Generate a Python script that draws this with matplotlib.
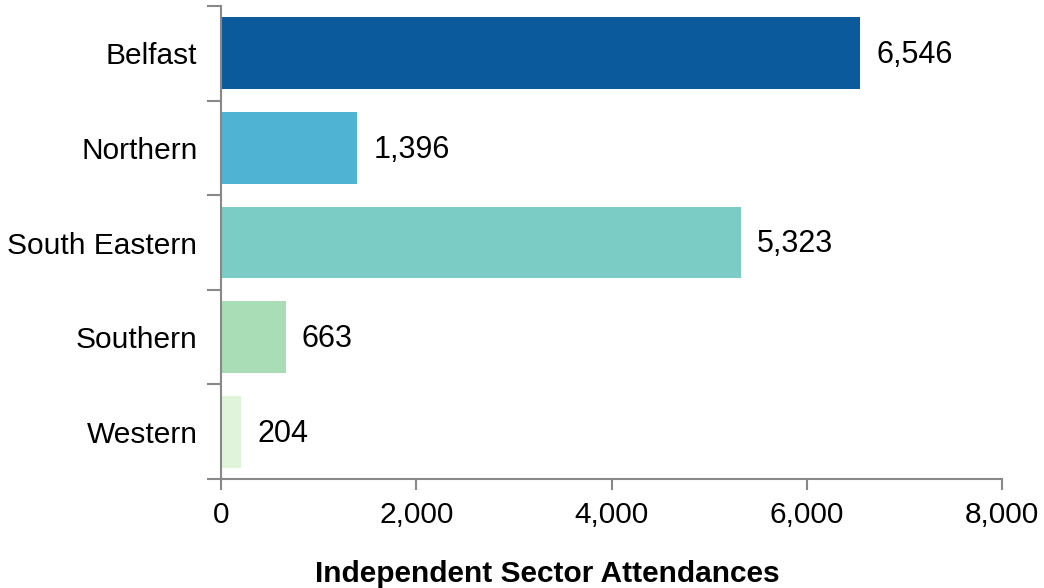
import matplotlib
matplotlib.use("Agg")
import matplotlib.pyplot as plt
from matplotlib.ticker import FuncFormatter, FixedLocator

categories = ["Belfast", "Northern", "South Eastern", "Southern", "Western"]
values = [6546, 1396, 5323, 663, 204]
colors = ["#0A5A9C", "#4FB3D3", "#7BCCC4", "#A8DDB5", "#E0F3DB"]
xticks = [0, 2000, 4000, 6000, 8000]

plt.rcParams['font.family'] = ['Liberation Sans', 'DejaVu Sans']

fig = plt.figure(figsize=(10.44, 5.88), dpi=100)
ax = fig.add_axes([221/1044, 1-479/588, (1002-221)/1044, (479-6)/588])

n = len(categories)
ypos = list(range(n))
ax.barh(ypos, values, height=0.76, color=colors)
ax.set_ylim(n - 0.5, -0.5)
ax.set_xlim(0, 8000)

for y, v in zip(ypos, values):
    ax.text(v + 165, y + 0.02, f"{v:,}", va="center", ha="left", fontsize=22, color="black")

ax.set_yticks(ypos)
ax.set_yticklabels(categories, fontsize=21.5)
ax.tick_params(axis='y', which='major', length=0, pad=17)
ax.yaxis.set_minor_locator(FixedLocator([i - 0.5 for i in range(n + 1)]))
ax.tick_params(axis='y', which='minor', length=10, color='#888888', width=1.5)

ax.set_xticks(xticks)
ax.xaxis.set_major_formatter(FuncFormatter(lambda x, p: f"{int(x):,}"))
ax.tick_params(axis='x', length=8, color='#888888', width=1.5, labelsize=21.5, pad=8)

for s in ['top', 'right']:
    ax.spines[s].set_visible(False)
for s in ['left', 'bottom']:
    ax.spines[s].set_color('#888888')
    ax.spines[s].set_linewidth(1.5)

ax.set_xlabel("Independent Sector Attendances", fontsize=21.5, fontweight='bold', labelpad=22)
ax.xaxis.label.set_x((547 - 221) / 781)

fig.savefig("out.png", dpi=100)
